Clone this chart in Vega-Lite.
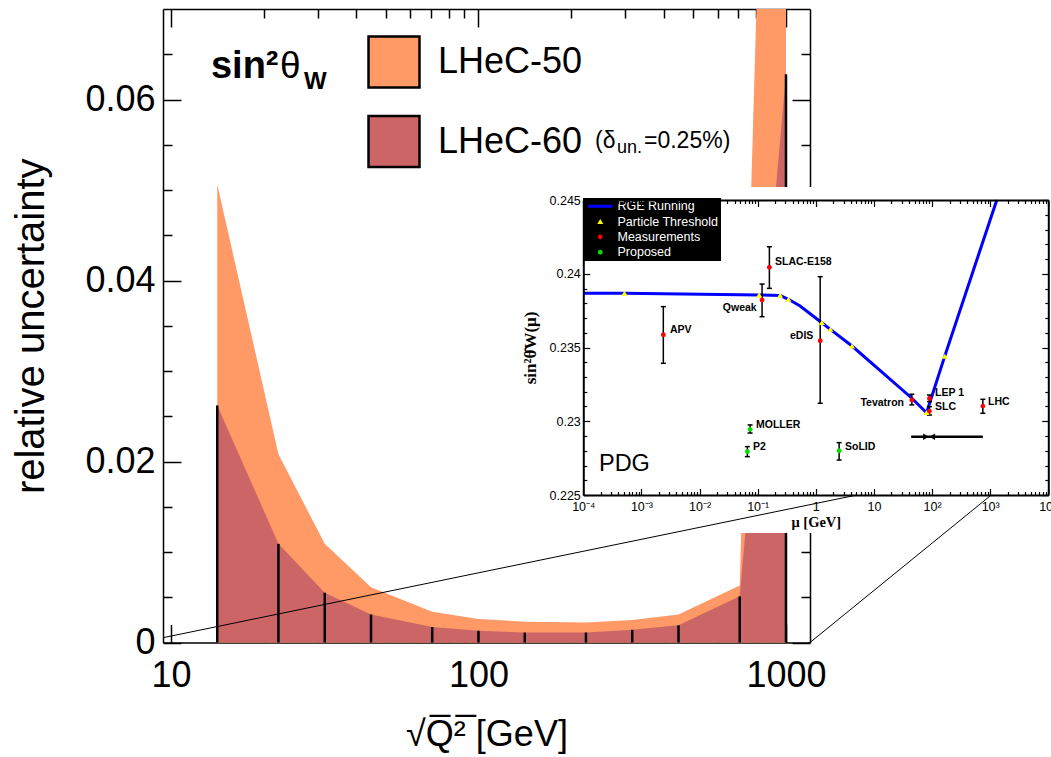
{
"$schema":"https://vega.github.io/schema/vega-lite/v6.json",
"width":1051,"height":748,
"autosize":{"type":"none"},
"padding":{"left":0,"top":9,"right":0,"bottom":0},
"background":"white",
"config":{"view":{"stroke":null},"axis":{"grid":false},"text":{"font":"Liberation Sans","color":"black"}},
"datasets":{
"unc":[
{"q":14.142,"series":"LHeC-50","v":0.0506},{"q":22.361,"series":"LHeC-50","v":0.0208},{"q":31.623,"series":"LHeC-50","v":0.0109},{"q":44.721,"series":"LHeC-50","v":0.0061},{"q":70.711,"series":"LHeC-50","v":0.0034},{"q":100,"series":"LHeC-50","v":0.0026},{"q":141.42,"series":"LHeC-50","v":0.0023},{"q":223.61,"series":"LHeC-50","v":0.0022},{"q":316.23,"series":"LHeC-50","v":0.0025},{"q":447.21,"series":"LHeC-50","v":0.0031},{"q":707.11,"series":"LHeC-50","v":0.0063},{"q":1000,"series":"LHeC-50","v":0.183},
{"q":14.142,"series":"LHeC-60","v":0.0262},{"q":22.361,"series":"LHeC-60","v":0.0109},{"q":31.623,"series":"LHeC-60","v":0.0055},{"q":44.721,"series":"LHeC-60","v":0.0031},{"q":70.711,"series":"LHeC-60","v":0.0017},{"q":100,"series":"LHeC-60","v":0.0013},{"q":141.42,"series":"LHeC-60","v":0.0011},{"q":223.61,"series":"LHeC-60","v":0.0011},{"q":316.23,"series":"LHeC-60","v":0.0014},{"q":447.21,"series":"LHeC-60","v":0.0019},{"q":707.11,"series":"LHeC-60","v":0.0051},{"q":1000,"series":"LHeC-60","v":0.0628}
],
"rge":[
{"mu":0.0001,"v":0.23867},{"mu":0.000511,"v":0.23867},{"mu":0.106,"v":0.23856},{"mu":0.243,"v":0.23853},{"mu":0.338,"v":0.23827},{"mu":0.537,"v":0.23781},{"mu":1.27,"v":0.23668},{"mu":1.78,"v":0.23623},{"mu":4.2,"v":0.2351},{"mu":45,"v":0.23156},{"mu":80.4,"v":0.23058},{"mu":165,"v":0.2344},{"mu":1300,"v":0.245}
],
"pts":[
{"kind":"Particle Threshold","mu":0.000511,"v":0.23867},
{"kind":"Particle Threshold","mu":0.106,"v":0.23856},
{"kind":"Particle Threshold","mu":0.243,"v":0.23853},
{"kind":"Particle Threshold","mu":0.338,"v":0.23827},
{"kind":"Particle Threshold","mu":1.27,"v":0.23668},
{"kind":"Particle Threshold","mu":1.78,"v":0.23623},
{"kind":"Particle Threshold","mu":4.2,"v":0.2351},
{"kind":"Particle Threshold","mu":80.4,"v":0.23058},
{"kind":"Particle Threshold","mu":165,"v":0.2344},
{"kind":"Measurements","name":"APV","mu":0.00238,"v":0.23587,"lo":0.23393,"hi":0.23777},
{"kind":"Measurements","name":"Qweak","mu":0.119,"v":0.23822,"lo":0.23709,"hi":0.2393},
{"kind":"Measurements","name":"SLAC-E158","mu":0.159,"v":0.24044,"lo":0.23901,"hi":0.24183},
{"kind":"Measurements","name":"eDIS","mu":1.19,"v":0.23546,"lo":0.23122,"hi":0.2398},
{"kind":"Measurements","name":"Tevatron","mu":44.9,"v":0.23144,"lo":0.23111,"hi":0.23183},
{"kind":"Measurements","name":"LEP 1","mu":90.2,"v":0.23155,"lo":0.23133,"hi":0.23178},
{"kind":"Measurements","name":"SLC","mu":90.2,"v":0.23069,"lo":0.23042,"hi":0.23099},
{"kind":"Measurements","name":"LHC","mu":748,"v":0.23103,"lo":0.23054,"hi":0.23149},
{"kind":"Proposed","name":"MOLLER","mu":0.074,"v":0.22945,"lo":0.2292,"hi":0.22975},
{"kind":"Proposed","name":"P2","mu":0.0665,"v":0.22795,"lo":0.2276,"hi":0.22828},
{"kind":"Proposed","name":"SoLID","mu":2.52,"v":0.228,"lo":0.22737,"hi":0.22855}
],
"lbl":[
{"t":"APV","side":"L","mu":0.0031,"v":0.236186},
{"t":"SLAC-E158","side":"L","mu":0.1986,"v":0.240776},
{"t":"LEP 1","side":"L","mu":112.4,"v":0.231915},
{"t":"SLC","side":"L","mu":112.4,"v":0.230986},
{"t":"LHC","side":"L","mu":917.6,"v":0.231305},
{"t":"MOLLER","side":"L","mu":0.0936,"v":0.229746},
{"t":"P2","side":"L","mu":0.0831,"v":0.228275},
{"t":"SoLID","side":"L","mu":3.18,"v":0.228275},
{"t":"Qweak","side":"R","mu":0.0962,"v":0.237698},
{"t":"eDIS","side":"R","mu":0.906,"v":0.23578},
{"t":"Tevatron","side":"R","mu":32.9,"v":0.231237}
],
"ann":[
{"t":"sin²","g":"b","q":13.49,"v":0.06235},
{"t":"θ","g":"n","q":22.62,"v":0.06235},
{"t":"W","g":"s","q":27.07,"v":0.06118},
{"t":"(δ","g":"d","q":239.3,"v":0.0546},
{"t":"un.","g":"u","q":282.1,"v":0.05405},
{"t":"=0.25%)","g":"d","q":345.3,"v":0.0546}
],
"conn":[{"q1":9.42,"v1":0.00053,"q2":1702,"v2":0.0163},{"q1":1197,"v1":0,"q2":4632,"v2":0.01625}],
"bg":[{"x1":0.0000045,"x2":11100,"y1":0.24588,"y2":0.22242}],
"arrow":[{"mu":43.7,"mu2":748,"v":0.22895}],
"heads":[{"mu":78.7,"v":0.22895,"dir":"right"},{"mu":100.4,"v":0.22895,"dir":"left"}],
"pdg":[{"t":"PDG","mu":0.000186,"v":0.2271}]
},
"resolve":{"scale":{"x":"independent","y":"independent","color":"independent","shape":"independent"},"axis":{"x":"independent","y":"independent"},"legend":{"color":"independent","shape":"independent"}},
"layer":[
{"data":{"name":"unc"},"mark":{"type":"area","clip":true,"opacity":1},
"encoding":{
"x":{"field":"q","type":"quantitative","scale":{"type":"log","domain":[9.42,1197],"range":[163,810],"nice":false},
"axis":{"orient":"bottom","offset":-114.5,"values":[10,100,1000],"format":"d","ticks":false,"domain":true,"domainColor":"black","domainWidth":1.5,"labelFont":"Liberation Sans","labelFontSize":36,"labelColor":"black","labelPadding":16,"labelFlush":false,"labelOverlap":false,"labelBound":false,"title":"√Q̅²̅ [GeV]","titleFont":"Liberation Sans","titleFontSize":36,"titleFontWeight":"normal","titleColor":"black","titlePadding":24,"zindex":0,"grid":false}},
"y":{"field":"v","type":"quantitative","stack":null,"scale":{"type":"linear","domain":[0,0.07],"range":[633.5,0],"nice":false,"zero":false},
"axis":{"orient":"left","offset":-163,"values":[0,0.02,0.04,0.06],"labelExpr":"datum.value == 0 ? '0' : format(datum.value, '.2f')","ticks":false,"domain":true,"domainColor":"black","domainWidth":1.5,"labelFont":"Liberation Sans","labelFontSize":36,"labelColor":"black","labelPadding":8,"labelOverlap":false,"labelBound":false,"title":"relative uncertainty","titleFont":"Liberation Sans","titleFontSize":40,"titleFontWeight":"normal","titleColor":"black","titlePadding":33,"zindex":0,"grid":false}},
"color":{"field":"series","type":"nominal","scale":{"domain":["LHeC-50","LHeC-60"],"range":["#FF9966","#CC6666"]},
"legend":{"orient":"none","legendX":367,"legendY":26,"title":null,"symbolType":"square","symbolSize":2600,"symbolStrokeColor":"black","symbolStrokeWidth":2.5,"symbolOpacity":1,"labelFont":"Liberation Sans","labelFontSize":36,"labelColor":"black","labelOffset":17,"rowPadding":17.5,"padding":0,"labelLimit":400}}
}},
{"data":{"name":"unc"},"transform":[{"filter":"datum.series == 'LHeC-60'"}],"mark":{"type":"rule","color":"black","strokeWidth":2.5},
"encoding":{
"x":{"field":"q","type":"quantitative","scale":{"type":"log","domain":[9.42,1197],"range":[163,810],"nice":false},"axis":null},
"y":{"field":"v","type":"quantitative","scale":{"type":"linear","domain":[0,0.07],"range":[633.5,0],"nice":false,"zero":false},"axis":null},
"y2":{"datum":0}}},
{"data":{"name":"unc"},"mark":{"type":"point","opacity":0},
"encoding":{
"x":{"field":"q","type":"quantitative","scale":{"type":"log","domain":[9.42,1197],"range":[163,810],"nice":false},
"axis":{"orient":"top","offset":-633.5,"values":[10,100,1000],"labels":false,"domain":false,"ticks":true,"tickSize":18,"tickWidth":1.5,"tickColor":"black","title":null,"grid":false,"zindex":0}},
"y":{"field":"v","type":"quantitative","scale":{"type":"linear","domain":[0,0.07],"range":[633.5,0],"nice":false,"zero":false},
"axis":{"orient":"right","offset":-888,"values":[0,0.02,0.04,0.06],"labels":false,"domain":false,"ticks":true,"tickSize":18,"tickWidth":1.5,"tickColor":"black","title":null,"grid":false,"zindex":0}}}},
{"data":{"name":"unc"},"mark":{"type":"point","opacity":0},
"encoding":{
"x":{"field":"q","type":"quantitative","scale":{"type":"log","domain":[9.42,1197],"range":[163,810],"nice":false},
"axis":{"orient":"top","offset":-633.5,"values":[20,30,40,50,60,70,80,90,200,300,400,500,600,700,800,900],"labels":false,"domain":false,"ticks":true,"tickSize":9,"tickWidth":1.5,"tickColor":"black","title":null,"grid":false,"zindex":0}},
"y":{"field":"v","type":"quantitative","scale":{"type":"linear","domain":[0,0.07],"range":[633.5,0],"nice":false,"zero":false},
"axis":{"orient":"right","offset":-888,"values":[0.005,0.01,0.015,0.025,0.03,0.035,0.045,0.05,0.055,0.065],"labels":false,"domain":false,"ticks":true,"tickSize":9,"tickWidth":1.5,"tickColor":"black","title":null,"grid":false,"zindex":0}}}},
{"data":{"name":"unc"},"mark":{"type":"point","opacity":0},
"encoding":{
"x":{"field":"q","type":"quantitative","scale":{"type":"log","domain":[9.42,1197],"range":[163,810],"nice":false},
"axis":{"orient":"bottom","offset":-748,"values":[10,100,1000],"labels":false,"domain":true,"domainColor":"black","domainWidth":1.5,"ticks":true,"tickSize":18,"tickWidth":1.5,"tickColor":"black","title":null,"grid":false,"zindex":0}},
"y":{"field":"v","type":"quantitative","scale":{"type":"linear","domain":[0,0.07],"range":[633.5,0],"nice":false,"zero":false},
"axis":{"orient":"left","offset":-810,"values":[0,0.02,0.04,0.06],"labels":false,"domain":true,"domainColor":"black","domainWidth":1.5,"ticks":true,"tickSize":18,"tickWidth":1.5,"tickColor":"black","title":null,"grid":false,"zindex":0}}}},
{"data":{"name":"unc"},"mark":{"type":"point","opacity":0},
"encoding":{
"x":{"field":"q","type":"quantitative","scale":{"type":"log","domain":[9.42,1197],"range":[163,810],"nice":false},
"axis":{"orient":"bottom","offset":-748,"values":[20,30,40,50,60,70,80,90,200,300,400,500,600,700,800,900],"labels":false,"domain":false,"ticks":true,"tickSize":9,"tickWidth":1.5,"tickColor":"black","title":null,"grid":false,"zindex":0}},
"y":{"field":"v","type":"quantitative","scale":{"type":"linear","domain":[0,0.07],"range":[633.5,0],"nice":false,"zero":false},
"axis":{"orient":"left","offset":-810,"values":[0.005,0.01,0.015,0.025,0.03,0.035,0.045,0.05,0.055,0.065],"labels":false,"domain":false,"ticks":true,"tickSize":9,"tickWidth":1.5,"tickColor":"black","title":null,"grid":false,"zindex":0}}}},
{"data":{"name":"ann"},"transform":[{"filter":"datum.g == 'b'"}],"mark":{"type":"text","align":"left","baseline":"alphabetic","font":"Liberation Sans","fontWeight":"bold","fontSize":38,"color":"black"},
"encoding":{"x":{"field":"q","type":"quantitative","scale":{"type":"log","domain":[9.42,1197],"range":[163,810],"nice":false},"axis":null},"y":{"field":"v","type":"quantitative","scale":{"type":"linear","domain":[0,0.07],"range":[633.5,0],"nice":false,"zero":false},"axis":null},"text":{"field":"t"}}},
{"data":{"name":"ann"},"transform":[{"filter":"datum.g == 'n'"}],"mark":{"type":"text","align":"left","baseline":"alphabetic","font":"Liberation Sans","fontWeight":"normal","fontSize":37,"color":"black"},
"encoding":{"x":{"field":"q","type":"quantitative","scale":{"type":"log","domain":[9.42,1197],"range":[163,810],"nice":false},"axis":null},"y":{"field":"v","type":"quantitative","scale":{"type":"linear","domain":[0,0.07],"range":[633.5,0],"nice":false,"zero":false},"axis":null},"text":{"field":"t"}}},
{"data":{"name":"ann"},"transform":[{"filter":"datum.g == 's'"}],"mark":{"type":"text","align":"left","baseline":"alphabetic","font":"Liberation Sans","fontWeight":"bold","fontSize":24,"color":"black"},
"encoding":{"x":{"field":"q","type":"quantitative","scale":{"type":"log","domain":[9.42,1197],"range":[163,810],"nice":false},"axis":null},"y":{"field":"v","type":"quantitative","scale":{"type":"linear","domain":[0,0.07],"range":[633.5,0],"nice":false,"zero":false},"axis":null},"text":{"field":"t"}}},
{"data":{"name":"ann"},"transform":[{"filter":"datum.g == 'd'"}],"mark":{"type":"text","align":"left","baseline":"alphabetic","font":"Liberation Sans","fontWeight":"normal","fontSize":23,"color":"black"},
"encoding":{"x":{"field":"q","type":"quantitative","scale":{"type":"log","domain":[9.42,1197],"range":[163,810],"nice":false},"axis":null},"y":{"field":"v","type":"quantitative","scale":{"type":"linear","domain":[0,0.07],"range":[633.5,0],"nice":false,"zero":false},"axis":null},"text":{"field":"t"}}},
{"data":{"name":"ann"},"transform":[{"filter":"datum.g == 'u'"}],"mark":{"type":"text","align":"left","baseline":"alphabetic","font":"Liberation Sans","fontWeight":"normal","fontSize":18,"color":"black"},
"encoding":{"x":{"field":"q","type":"quantitative","scale":{"type":"log","domain":[9.42,1197],"range":[163,810],"nice":false},"axis":null},"y":{"field":"v","type":"quantitative","scale":{"type":"linear","domain":[0,0.07],"range":[633.5,0],"nice":false,"zero":false},"axis":null},"text":{"field":"t"}}},
{"data":{"name":"bg"},"mark":{"type":"rect","color":"white","opacity":1},
"encoding":{
"x":{"field":"x1","type":"quantitative","scale":{"type":"log","domain":[0.0001,10000],"range":[583.3,1048.3],"nice":false},
"axis":{"orient":"bottom","offset":-262,"values":[0.0001,0.001,0.01,0.1,1,10,100,1000,10000],"labelExpr":"['10⁻⁴','10⁻³','10⁻²','10⁻¹','1','10','10²','10³','10⁴'][round(log(datum.value)/LN10)+4]","ticks":false,"domain":true,"domainColor":"black","domainWidth":2,"labelFont":"Liberation Sans","labelFontSize":12.5,"labelColor":"black","labelPadding":5,"labelFlush":false,"labelOverlap":false,"labelBound":false,"title":"μ [GeV]","titleFont":"Liberation Serif","titleFontSize":14.5,"titleFontWeight":"bold","titleColor":"black","titlePadding":3,"zindex":1,"grid":false}},
"x2":{"field":"x2"},
"y":{"field":"y1","type":"quantitative","scale":{"type":"linear","domain":[0.225,0.245],"range":[486,191],"nice":false,"zero":false},
"axis":{"orient":"left","offset":-583.3,"values":[0.225,0.23,0.235,0.24,0.245],"format":"~g","ticks":false,"domain":true,"domainColor":"black","domainWidth":2,"labelFont":"Liberation Sans","labelFontSize":12.5,"labelColor":"black","labelPadding":3,"labelOverlap":false,"labelBound":false,"title":"sin²θ̂W(μ)","titleFont":"Liberation Serif","titleFontSize":17,"titleFontWeight":"bold","titleColor":"black","titlePadding":10,"zindex":1,"grid":false}},
"y2":{"field":"y2"}}},
{"data":{"name":"rge"},"mark":{"type":"line","color":"#0000FF","strokeWidth":3},
"encoding":{"x":{"field":"mu","type":"quantitative","scale":{"type":"log","domain":[0.0001,10000],"range":[583.3,1048.3],"nice":false},"axis":null},"y":{"field":"v","type":"quantitative","scale":{"type":"linear","domain":[0.225,0.245],"range":[486,191],"nice":false,"zero":false},"axis":null}}},
{"data":{"name":"pts"},"transform":[{"filter":"isValid(datum.lo)"}],"mark":{"type":"rule","color":"black","strokeWidth":1.5},
"encoding":{"x":{"field":"mu","type":"quantitative","scale":{"type":"log","domain":[0.0001,10000],"range":[583.3,1048.3],"nice":false},"axis":null},"y":{"field":"lo","type":"quantitative","scale":{"type":"linear","domain":[0.225,0.245],"range":[486,191],"nice":false,"zero":false},"axis":null},"y2":{"field":"hi"}}},
{"data":{"name":"pts"},"transform":[{"filter":"isValid(datum.lo)"}],"mark":{"type":"tick","orient":"horizontal","color":"black","size":5,"thickness":1.5,"opacity":1},
"encoding":{"x":{"field":"mu","type":"quantitative","scale":{"type":"log","domain":[0.0001,10000],"range":[583.3,1048.3],"nice":false},"axis":null},"y":{"field":"lo","type":"quantitative","scale":{"type":"linear","domain":[0.225,0.245],"range":[486,191],"nice":false,"zero":false},"axis":null}}},
{"data":{"name":"pts"},"transform":[{"filter":"isValid(datum.hi)"}],"mark":{"type":"tick","orient":"horizontal","color":"black","size":5,"thickness":1.5,"opacity":1},
"encoding":{"x":{"field":"mu","type":"quantitative","scale":{"type":"log","domain":[0.0001,10000],"range":[583.3,1048.3],"nice":false},"axis":null},"y":{"field":"hi","type":"quantitative","scale":{"type":"linear","domain":[0.225,0.245],"range":[486,191],"nice":false,"zero":false},"axis":null}}},
{"data":{"name":"arrow"},"mark":{"type":"rule","color":"black","strokeWidth":2.5},
"encoding":{"x":{"field":"mu","type":"quantitative","scale":{"type":"log","domain":[0.0001,10000],"range":[583.3,1048.3],"nice":false},"axis":null},"x2":{"field":"mu2"},"y":{"field":"v","type":"quantitative","scale":{"type":"linear","domain":[0.225,0.245],"range":[486,191],"nice":false,"zero":false},"axis":null}}},
{"data":{"name":"heads"},"mark":{"type":"point","filled":true,"opacity":1,"size":45,"color":"black"},
"encoding":{"x":{"field":"mu","type":"quantitative","scale":{"type":"log","domain":[0.0001,10000],"range":[583.3,1048.3],"nice":false},"axis":null},"y":{"field":"v","type":"quantitative","scale":{"type":"linear","domain":[0.225,0.245],"range":[486,191],"nice":false,"zero":false},"axis":null},
"shape":{"field":"dir","type":"nominal","scale":{"domain":["right","left"],"range":["triangle-right","triangle-left"]},"legend":null}}},
{"data":{"name":"pts"},"mark":{"type":"point","filled":true,"opacity":1,"size":144,"strokeWidth":0},
"encoding":{"x":{"field":"mu","type":"quantitative","scale":{"type":"log","domain":[0.0001,10000],"range":[583.3,1048.3],"nice":false},"axis":null},"y":{"field":"v","type":"quantitative","scale":{"type":"linear","domain":[0.225,0.245],"range":[486,191],"nice":false,"zero":false},"axis":null},
"color":{"field":"kind","type":"nominal","scale":{"domain":["RGE Running","Particle Threshold","Measurements","Proposed"],"range":["#0000FF","#FFFF00","#FF0000","#00E000"]},
"legend":{"orient":"none","legendX":583,"legendY":189,"title":null,"fillColor":"black","padding":2,"labelColor":"white","labelFont":"Liberation Sans","labelFontSize":12.5,"symbolSize":144,"symbolStrokeWidth":0,"symbolOpacity":1,"symbolOffset":9,"labelOffset":11,"rowPadding":2.3,"labelLimit":300}},
"shape":{"field":"kind","type":"nominal","scale":{"domain":["RGE Running","Particle Threshold","Measurements","Proposed"],"range":["M-2,-0.26L2,-0.26L2,0.26L-2,0.26Z","M0,-0.44L0.5,0.4L-0.5,0.4Z","M0.4,0A0.4,0.4,0,1,1,-0.4,0A0.4,0.4,0,1,1,0.4,0Z","M0.4,0A0.4,0.4,0,1,1,-0.4,0A0.4,0.4,0,1,1,0.4,0Z"]},
"legend":{"orient":"none","legendX":583,"legendY":189,"title":null,"fillColor":"black","padding":2,"labelColor":"white","labelFont":"Liberation Sans","labelFontSize":12.5,"symbolSize":144,"symbolStrokeWidth":0,"symbolOpacity":1,"symbolOffset":9,"labelOffset":11,"rowPadding":2.3,"labelLimit":300}}}},
{"data":{"name":"lbl"},"transform":[{"filter":"datum.side == 'L'"}],"mark":{"type":"text","align":"left","baseline":"middle","font":"Liberation Sans","fontWeight":"bold","fontSize":10.5,"color":"black"},
"encoding":{"x":{"field":"mu","type":"quantitative","scale":{"type":"log","domain":[0.0001,10000],"range":[583.3,1048.3],"nice":false},"axis":null},"y":{"field":"v","type":"quantitative","scale":{"type":"linear","domain":[0.225,0.245],"range":[486,191],"nice":false,"zero":false},"axis":null},"text":{"field":"t"}}},
{"data":{"name":"lbl"},"transform":[{"filter":"datum.side == 'R'"}],"mark":{"type":"text","align":"right","baseline":"middle","font":"Liberation Sans","fontWeight":"bold","fontSize":10.5,"color":"black"},
"encoding":{"x":{"field":"mu","type":"quantitative","scale":{"type":"log","domain":[0.0001,10000],"range":[583.3,1048.3],"nice":false},"axis":null},"y":{"field":"v","type":"quantitative","scale":{"type":"linear","domain":[0.225,0.245],"range":[486,191],"nice":false,"zero":false},"axis":null},"text":{"field":"t"}}},
{"data":{"name":"pdg"},"mark":{"type":"text","align":"left","baseline":"middle","font":"Liberation Sans","fontWeight":"normal","fontSize":23.5,"color":"black"},
"encoding":{"x":{"field":"mu","type":"quantitative","scale":{"type":"log","domain":[0.0001,10000],"range":[583.3,1048.3],"nice":false},"axis":null},"y":{"field":"v","type":"quantitative","scale":{"type":"linear","domain":[0.225,0.245],"range":[486,191],"nice":false,"zero":false},"axis":null},"text":{"field":"t"}}},
{"data":{"name":"rge"},"mark":{"type":"point","opacity":0},
"encoding":{
"x":{"field":"mu","type":"quantitative","scale":{"type":"log","domain":[0.0001,10000],"range":[583.3,1048.3],"nice":false},
"axis":{"orient":"top","offset":-486,"values":[0.0001,0.001,0.01,0.1,1,10,100,1000,10000],"labels":false,"domain":false,"ticks":true,"tickSize":6.5,"tickWidth":1.2,"tickColor":"black","title":null,"grid":false,"zindex":1}},
"y":{"field":"v","type":"quantitative","scale":{"type":"linear","domain":[0.225,0.245],"range":[486,191],"nice":false,"zero":false},
"axis":{"orient":"right","offset":-467.7,"values":[0.225,0.23,0.235,0.24,0.245],"labels":false,"domain":false,"ticks":true,"tickSize":6.5,"tickWidth":1.2,"tickColor":"black","title":null,"grid":false,"zindex":1}}}},
{"data":{"name":"rge"},"mark":{"type":"point","opacity":0},
"encoding":{
"x":{"field":"mu","type":"quantitative","scale":{"type":"log","domain":[0.0001,10000],"range":[583.3,1048.3],"nice":false},
"axis":{"orient":"top","offset":-486,"values":[0.0002,0.0003,0.0004,0.0005,0.0006,0.0007,0.0008,0.0009,0.002,0.003,0.004,0.005,0.006,0.007,0.008,0.009,0.02,0.03,0.04,0.05,0.06,0.07,0.08,0.09,0.2,0.3,0.4,0.5,0.6,0.7,0.8,0.9,2,3,4,5,6,7,8,9,20,30,40,50,60,70,80,90,200,300,400,500,600,700,800,900,2000,3000,4000,5000,6000,7000,8000,9000],"labels":false,"domain":false,"ticks":true,"tickSize":3.5,"tickWidth":1.2,"tickColor":"black","title":null,"grid":false,"zindex":1}},
"y":{"field":"v","type":"quantitative","scale":{"type":"linear","domain":[0.225,0.245],"range":[486,191],"nice":false,"zero":false},
"axis":{"orient":"right","offset":-467.7,"values":[0.226,0.227,0.228,0.229,0.231,0.232,0.233,0.234,0.236,0.237,0.238,0.239,0.241,0.242,0.243,0.244],"labels":false,"domain":false,"ticks":true,"tickSize":3.5,"tickWidth":1.2,"tickColor":"black","title":null,"grid":false,"zindex":1}}}},
{"data":{"name":"rge"},"mark":{"type":"point","opacity":0},
"encoding":{
"x":{"field":"mu","type":"quantitative","scale":{"type":"log","domain":[0.0001,10000],"range":[583.3,1048.3],"nice":false},
"axis":{"orient":"bottom","offset":-557,"values":[0.0001,0.001,0.01,0.1,1,10,100,1000,10000],"labels":false,"domain":true,"domainColor":"black","domainWidth":2,"ticks":true,"tickSize":6.5,"tickWidth":1.2,"tickColor":"black","title":null,"grid":false,"zindex":1}},
"y":{"field":"v","type":"quantitative","scale":{"type":"linear","domain":[0.225,0.245],"range":[486,191],"nice":false,"zero":false},
"axis":{"orient":"left","offset":-1048.3,"values":[0.225,0.23,0.235,0.24,0.245],"labels":false,"domain":true,"domainColor":"black","domainWidth":2,"ticks":true,"tickSize":6.5,"tickWidth":1.2,"tickColor":"black","title":null,"grid":false,"zindex":1}}}},
{"data":{"name":"rge"},"mark":{"type":"point","opacity":0},
"encoding":{
"x":{"field":"mu","type":"quantitative","scale":{"type":"log","domain":[0.0001,10000],"range":[583.3,1048.3],"nice":false},
"axis":{"orient":"bottom","offset":-557,"values":[0.0002,0.0003,0.0004,0.0005,0.0006,0.0007,0.0008,0.0009,0.002,0.003,0.004,0.005,0.006,0.007,0.008,0.009,0.02,0.03,0.04,0.05,0.06,0.07,0.08,0.09,0.2,0.3,0.4,0.5,0.6,0.7,0.8,0.9,2,3,4,5,6,7,8,9,20,30,40,50,60,70,80,90,200,300,400,500,600,700,800,900,2000,3000,4000,5000,6000,7000,8000,9000],"labels":false,"domain":false,"ticks":true,"tickSize":3.5,"tickWidth":1.2,"tickColor":"black","title":null,"grid":false,"zindex":1}},
"y":{"field":"v","type":"quantitative","scale":{"type":"linear","domain":[0.225,0.245],"range":[486,191],"nice":false,"zero":false},
"axis":{"orient":"left","offset":-1048.3,"values":[0.226,0.227,0.228,0.229,0.231,0.232,0.233,0.234,0.236,0.237,0.238,0.239,0.241,0.242,0.243,0.244],"labels":false,"domain":false,"ticks":true,"tickSize":3.5,"tickWidth":1.2,"tickColor":"black","title":null,"grid":false,"zindex":1}}}},
{"data":{"name":"conn"},"mark":{"type":"rule","color":"black","strokeWidth":1},
"encoding":{"x":{"field":"q1","type":"quantitative","scale":{"type":"log","domain":[9.42,1197],"range":[163,810],"nice":false},"axis":null},"y":{"field":"v1","type":"quantitative","scale":{"type":"linear","domain":[0,0.07],"range":[633.5,0],"nice":false,"zero":false},"axis":null},"x2":{"field":"q2"},"y2":{"field":"v2"}}}
]
}
